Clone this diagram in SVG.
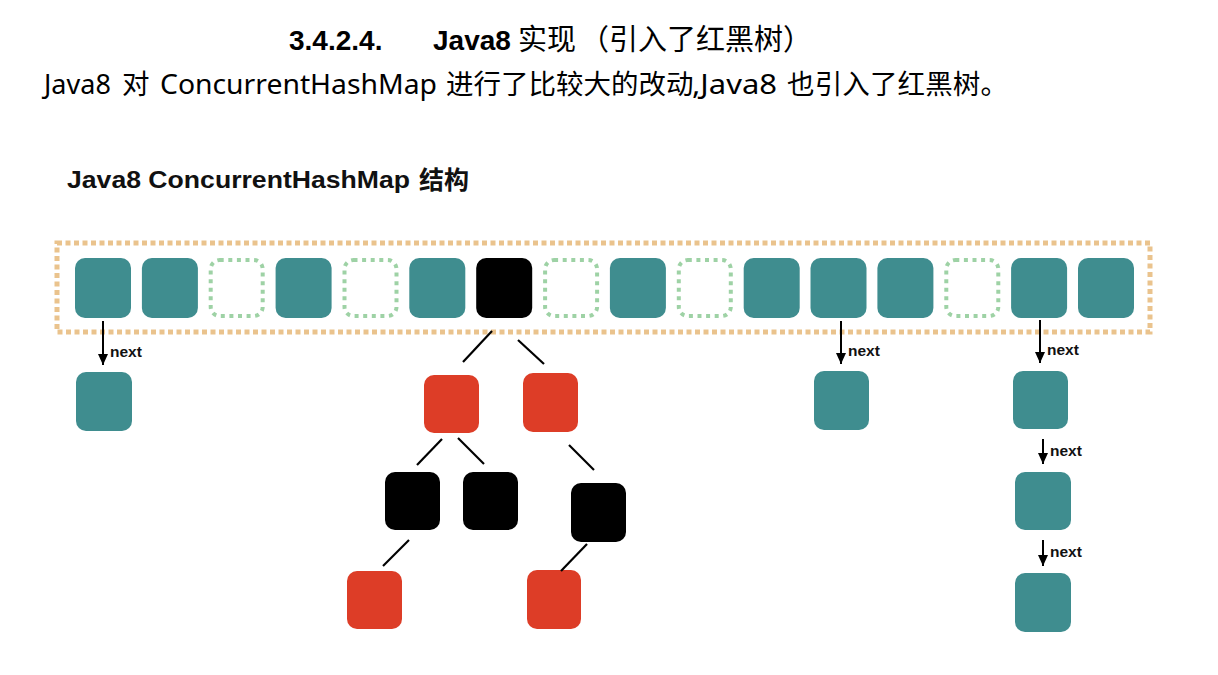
<svg xmlns="http://www.w3.org/2000/svg" width="1218" height="675" viewBox="0 0 1218 675">
<defs>
<style>
.teal{fill:#3f8d8f}
.red{fill:#dd3d27}
.blk{fill:#000}
.empty{fill:none;stroke:#9ed2a5;stroke-width:4;stroke-dasharray:4 4.6}
.edge{stroke:#000;stroke-width:2.2;fill:none}
.arrow{stroke:#000;stroke-width:2;fill:none;marker-end:url(#ah)}
.lbl{font-family:"Liberation Sans",Arial,sans-serif;font-weight:bold;font-size:15.5px;fill:#111}
.hl{font-family:"Liberation Sans",Arial,sans-serif;font-weight:bold;font-size:28px;fill:#000}
.hc{font-family:"Noto Sans CJK SC","Noto Sans",sans-serif;font-size:29px;fill:#000}
.body{font-family:"Noto Sans","Noto Sans CJK SC",sans-serif;font-size:27px;fill:#000}
.bodyc{font-family:"Noto Sans CJK SC","Noto Sans",sans-serif;font-size:27.5px;fill:#000}
.sub{font-family:"Liberation Sans",Arial,sans-serif;font-weight:bold;font-size:24px;fill:#111}
.subc{font-family:"Noto Sans CJK SC",sans-serif;font-weight:bold;font-size:25px;fill:#111}
</style>
<marker id="ah" markerUnits="userSpaceOnUse" markerWidth="11" markerHeight="10" refX="11" refY="5" orient="auto">
<path d="M0,0 L11,5 L0,10 Z" fill="#000"/>
</marker>
</defs>
<rect width="1218" height="675" fill="#fff"/>

<g id="titles">
<text class="hl" x="289" y="50">3.4.2.4.</text>
<text class="hl" x="433" y="50">Java8</text>
<text class="hc" x="518" y="50">实现</text>
<text class="hc" x="580" y="50">（引入了红黑树）</text>
<text y="94"><tspan class="body" x="44">Java8</tspan><tspan class="bodyc" x="122">对</tspan><tspan class="body" x="160" textLength="277" lengthAdjust="spacingAndGlyphs">ConcurrentHashMap</tspan><tspan class="bodyc" x="446">进行了比较大的改动</tspan><tspan class="body" x="692" textLength="85" lengthAdjust="spacingAndGlyphs">,Java8</tspan><tspan class="bodyc" x="787" textLength="221" lengthAdjust="spacing">也引入了红黑树。</tspan></text>
<text class="sub" x="67" y="188" textLength="343" lengthAdjust="spacingAndGlyphs">Java8 ConcurrentHashMap</text>
<text class="subc" x="419" y="189">结构</text>
</g>

<g id="table">
<rect x="57" y="243" width="1093" height="89" fill="none" stroke="#eac38d" stroke-width="5" stroke-dasharray="5 3.5"/>
</g>

<g id="bucket-0"><rect class="teal" x="75" y="258" width="56" height="60" rx="10"/></g>
<g id="bucket-1"><rect class="teal" x="141.9" y="258" width="56" height="60" rx="10"/></g>
<g id="bucket-2"><rect class="empty" x="210.7" y="260" width="52" height="56" rx="9"/></g>
<g id="bucket-3"><rect class="teal" x="275.6" y="258" width="56" height="60" rx="10"/></g>
<g id="bucket-4"><rect class="empty" x="344.5" y="260" width="52" height="56" rx="9"/></g>
<g id="bucket-5"><rect class="teal" x="409.3" y="258" width="56" height="60" rx="10"/></g>
<g id="bucket-6"><rect class="blk" x="476.2" y="258" width="56" height="60" rx="10"/></g>
<g id="bucket-7"><rect class="empty" x="545.1" y="260" width="52" height="56" rx="9"/></g>
<g id="bucket-8"><rect class="teal" x="609.9" y="258" width="56" height="60" rx="10"/></g>
<g id="bucket-9"><rect class="empty" x="678.8" y="260" width="52" height="56" rx="9"/></g>
<g id="bucket-10"><rect class="teal" x="743.7" y="258" width="56" height="60" rx="10"/></g>
<g id="bucket-11"><rect class="teal" x="810.5" y="258" width="56" height="60" rx="10"/></g>
<g id="bucket-12"><rect class="teal" x="877.4" y="258" width="56" height="60" rx="10"/></g>
<g id="bucket-13"><rect class="empty" x="946.3" y="260" width="52" height="56" rx="9"/></g>
<g id="bucket-14"><rect class="teal" x="1011.1" y="258" width="56" height="60" rx="10"/></g>
<g id="bucket-15"><rect class="teal" x="1078" y="258" width="56" height="60" rx="10"/></g>

<g id="list-0-1"><rect class="teal" x="76" y="372" width="56" height="59" rx="10"/></g>
<g id="list-11-1"><rect class="teal" x="814" y="371" width="55" height="59" rx="10"/></g>
<g id="list-14-1"><rect class="teal" x="1013" y="371" width="55" height="58" rx="10"/></g>
<g id="list-14-2"><rect class="teal" x="1015" y="472" width="56" height="58" rx="10"/></g>
<g id="list-14-3"><rect class="teal" x="1015" y="573" width="56" height="59" rx="10"/></g>

<g id="tree-r1"><rect class="red" x="424" y="375" width="55" height="58" rx="10"/></g>
<g id="tree-r2"><rect class="red" x="523" y="373" width="55" height="59" rx="10"/></g>
<g id="tree-b1"><rect class="blk" x="385" y="472" width="55" height="58" rx="10"/></g>
<g id="tree-b2"><rect class="blk" x="463" y="472" width="55" height="58" rx="10"/></g>
<g id="tree-b3"><rect class="blk" x="571" y="483" width="55" height="59" rx="10"/></g>
<g id="tree-r3"><rect class="red" x="347" y="571" width="55" height="58" rx="10"/></g>
<g id="tree-r4"><rect class="red" x="527" y="570" width="54" height="59" rx="10"/></g>

<g id="connectors">
<line class="edge" x1="492" y1="331" x2="463" y2="362"/>
<line class="edge" x1="518" y1="340" x2="544" y2="364"/>
<line class="edge" x1="442" y1="439" x2="417" y2="465"/>
<line class="edge" x1="458" y1="438" x2="484" y2="464"/>
<line class="edge" x1="569" y1="445" x2="594" y2="470"/>
<line class="edge" x1="409" y1="540" x2="383" y2="566"/>
<line class="edge" x1="587" y1="544" x2="561" y2="571"/>

<line class="arrow" x1="103" y1="321" x2="103" y2="365"/>
<text class="lbl" x="110" y="357">next</text>
<line class="arrow" x1="841" y1="321" x2="841" y2="364"/>
<text class="lbl" x="848" y="356">next</text>
<line class="arrow" x1="1040" y1="320" x2="1040" y2="363"/>
<text class="lbl" x="1047" y="355">next</text>
<line class="arrow" x1="1043" y1="439" x2="1043" y2="464"/>
<text class="lbl" x="1050" y="456">next</text>
<line class="arrow" x1="1043" y1="540" x2="1043" y2="566"/>
<text class="lbl" x="1050" y="557">next</text>
</g>
</svg>
